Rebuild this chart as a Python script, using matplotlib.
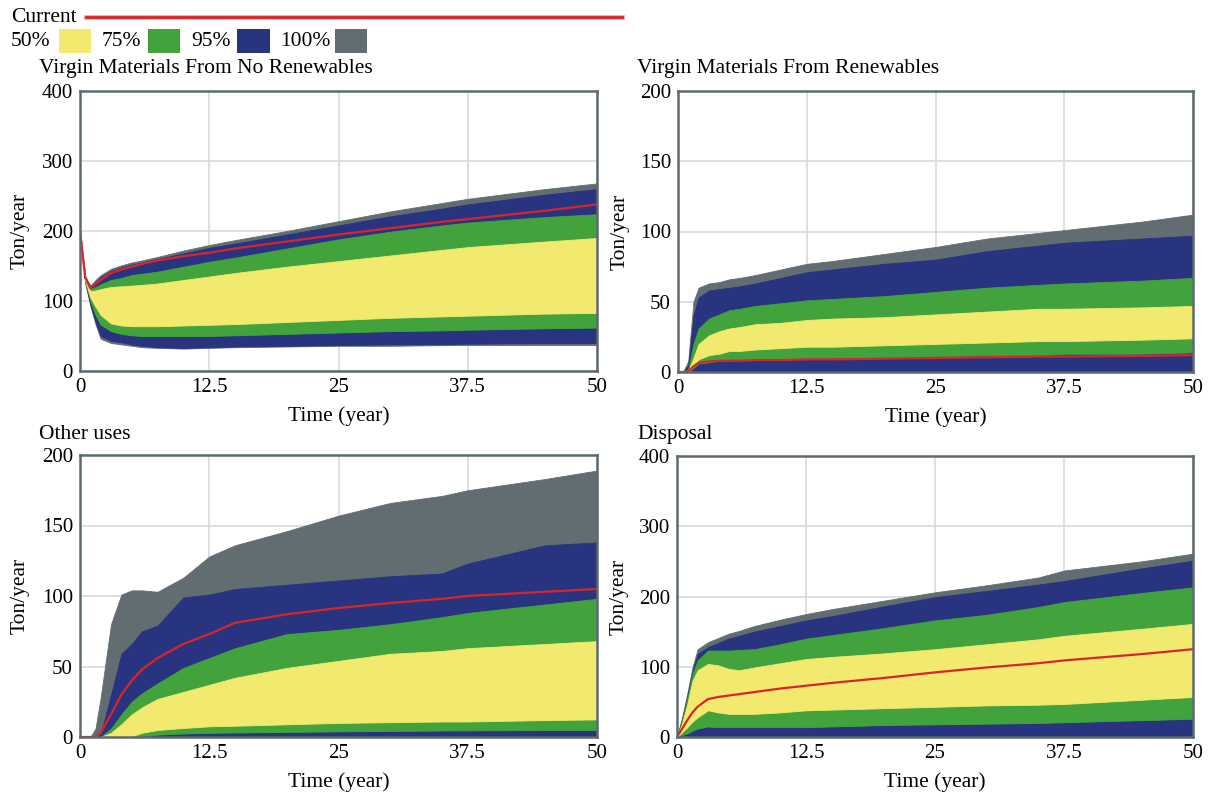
import matplotlib
matplotlib.use("Agg")
import matplotlib.pyplot as plt
from matplotlib.patches import Rectangle
from matplotlib.lines import Line2D

plt.rcParams['font.family'] = 'serif'
plt.rcParams['font.serif'] = ['Liberation Serif', 'DejaVu Serif']

# ================================
# Data
# ================================
years = [0, 0.5, 1, 1.5, 2, 3, 4, 5, 6, 7.5, 10, 12.5, 15, 20, 25, 30, 35, 37.5, 45, 50]

# Virgin Materials From No Renewables
nr_lo100 = [200, 126, 93, 67, 46, 40, 38, 36, 34, 33, 32, 33, 34, 35, 36, 36, 37, 37, 37, 37]
nr_lo95 = [200, 127, 95, 70, 50, 43, 41, 38, 36, 34, 33, 34, 35, 36, 37, 38, 38, 39, 40, 40]
nr_lo75 = [200, 128, 100, 80, 66, 57, 53, 51, 50, 50, 50, 50, 51, 53, 55, 57, 58, 59, 61, 62]
nr_lo50 = [200, 130, 105, 92, 80, 68, 65, 64, 64, 64, 65, 66, 67, 70, 73, 76, 78, 79, 82, 83]
nr_hi50 = [200, 133, 114, 115, 117, 120, 121, 122, 123, 125, 130, 135, 140, 149, 157, 165, 173, 177, 185, 190]
nr_hi75 = [200, 134, 117, 120, 124, 130, 133, 137, 139, 142, 149, 156, 162, 175, 188, 199, 208, 212, 220, 224]
nr_hi95 = [200, 135, 120, 127, 134, 143, 148, 152, 155, 160, 168, 176, 182, 195, 208, 221, 232, 238, 252, 260]
nr_hi100 = [200, 135, 122, 130, 137, 146, 151, 155, 158, 163, 172, 180, 187, 200, 214, 228, 240, 246, 260, 268]
nr_current = [200, 134, 118, 124, 130, 140, 145, 149, 153, 158, 164, 169, 175, 185, 195, 204, 213, 217, 229, 238]

# Virgin Materials From Renewables
r_lo100 = [0] * 20
r_lo95 = [0] * 20
r_lo75 = [0, 0, 0, 3, 6, 7, 8, 9, 9, 9, 9, 10, 10, 10, 11, 12, 12, 13, 13, 14]
r_lo50 = [0, 0, 0, 5, 9, 12, 13, 15, 15, 16, 17, 18, 18, 19, 20, 21, 22, 22, 23, 24]
r_hi50 = [0, 0, 1, 10, 20, 26, 29, 31, 32, 34, 35, 37, 38, 39, 41, 43, 45, 45, 46, 47]
r_hi75 = [0, 0, 2, 20, 31, 38, 41, 44, 45, 47, 49, 51, 52, 54, 57, 60, 62, 63, 65, 67]
r_hi95 = [0, 0, 5, 40, 53, 58, 59, 60, 61, 63, 67, 71, 73, 77, 80, 86, 90, 92, 95, 97]
r_hi100 = [0, 0, 8, 50, 60, 63, 64, 66, 67, 69, 73, 77, 79, 84, 89, 95, 99, 101, 107, 112]
r_current = [0, 0, 0.5, 4, 6.5, 7.5, 8, 8, 8, 8.5, 8.5, 9, 9, 9.5, 10, 10.5, 11, 11, 11.5, 12]

# Other uses
ou_lo100 = [0] * 20
ou_lo95 = [0] * 20
ou_lo75 = [0, 0, 0, 0, 0, 0, 0, 0, 0.5, 1.7, 2.5, 3, 3.2, 3.6, 4, 4.3, 4.6, 4.7, 4.9, 5]
ou_lo50 = [0, 0, 0, 0, 0, 0, 0, 0.5, 3, 5, 6.4, 7.6, 8, 9, 10, 10.5, 11, 11, 12, 12.5]
ou_hi50 = [0, 0, 0, 0, 0, 3, 9, 16, 21, 27, 32, 37, 42, 49, 54, 59, 61, 63, 66, 68]
ou_hi75 = [0, 0, 0, 0, 0, 6, 16, 25, 31, 38, 49, 56, 63, 73, 76, 80, 85, 88, 94, 98]
ou_hi95 = [0, 0, 0, 0, 2, 30, 59, 66, 75, 79, 99, 101, 105, 108, 111, 114, 116, 123, 136, 138]
ou_hi100 = [0, 0, 0, 6, 28, 80, 101, 104, 104, 103, 113, 128, 136, 146, 157, 166, 171, 175, 183, 189]
ou_current = [0, 0, 0, 0, 3, 16, 30, 40, 48, 56, 66, 73, 81, 87, 91.5, 95, 98, 100, 103, 105]

# Disposal
d_lo100 = [0] * 20
d_lo95 = [0] * 20
d_lo75 = [0, 3, 5, 9, 12, 15, 14, 14, 14, 14, 14, 14, 15, 17, 18, 19, 20, 21, 24, 26]
d_lo50 = [0, 7, 14, 22, 28, 38, 35, 33, 33, 33, 35, 38, 39, 41, 43, 45, 46, 47, 53, 57]
d_hi50 = [0, 20, 47, 80, 95, 104, 102, 97, 95, 99, 105, 111, 114, 119, 125, 132, 139, 144, 154, 161]
d_hi75 = [0, 24, 55, 90, 109, 123, 123, 123, 124, 125, 132, 140, 145, 155, 166, 174, 185, 192, 205, 213]
d_hi95 = [0, 26, 58, 94, 118, 128, 134, 140, 144, 150, 158, 166, 172, 186, 199, 208, 217, 222, 240, 251]
d_hi100 = [0, 28, 62, 99, 125, 135, 141, 147, 151, 158, 167, 175, 182, 194, 206, 216, 227, 237, 250, 261]
d_current = [0, 12, 24, 35, 43, 54, 57, 59, 61, 64, 69, 73, 77, 84, 92, 99, 105, 109, 118, 125]

x_ticks = [0, 12.5, 25, 37.5, 50]
x_tick_labels = ['0', '12.5', '25', '37.5', '50']
band_labels = ['50%', '75%', '95%', '100%']

# ================================
# Style
# ================================
C_YELLOW = '#f2ea6e'
C_GREEN = '#42a33d'
C_NAVY = '#283480'
C_GRAY = '#626d72'
C_RED = '#d9252a'
C_SPINE = '#5d6970'
C_GRID = '#d9d9d9'
band_colors = [C_YELLOW, C_GREEN, C_NAVY, C_GRAY]

W, H = 1213, 796
fig = plt.figure(figsize=(W / 100, H / 100), dpi=100)


def fx(px):
    return px / W


def fy(py):
    return 1 - py / H


panels = [
    ('Virgin Materials From No Renewables', 400,
     [(nr_lo100, nr_hi100), (nr_lo95, nr_hi95), (nr_lo75, nr_hi75), (nr_lo50, nr_hi50)], nr_current,
     (80, 597, 91, 371), (39, 68), -0.097),
    ('Virgin Materials From Renewables', 200,
     [(r_lo100, r_hi100), (r_lo95, r_hi95), (r_lo75, r_hi75), (r_lo50, r_hi50)], r_current,
     (678, 1193, 91, 372), (637, 68), -0.093),
    ('Other uses', 200,
     [(ou_lo100, ou_hi100), (ou_lo95, ou_hi95), (ou_lo75, ou_hi75), (ou_lo50, ou_hi50)], ou_current,
     (80, 597, 455, 737), (39, 435), -0.097),
    ('Disposal', 400,
     [(d_lo100, d_hi100), (d_lo95, d_hi95), (d_lo75, d_hi75), (d_lo50, d_hi50)], d_current,
     (677, 1193, 456, 737), (637, 435), -0.093),
]

fill_colors = [C_GRAY, C_NAVY, C_GREEN, C_YELLOW]

for title, ymax, bands, current, box, tpos, ylab_x in panels:
    left, right, top, bottom = box
    ax = fig.add_axes([fx(left), fy(bottom), (right - left) / W, (bottom - top) / H])
    for (lo, hi), col in zip(bands, fill_colors):
        ax.fill_between(years, lo, hi, color=col, lw=0.6, edgecolor=col, zorder=2)
    ax.plot(years, current, color=C_RED, lw=1.6, zorder=3)

    ax.set_xlim(0, 50)
    ax.set_ylim(0, ymax)
    ax.set_xticks(x_ticks)
    ax.set_xticklabels(x_tick_labels)
    ax.set_yticks([ymax * i / 4 for i in range(5)])
    ax.set_yticklabels([f'{ymax * i // 4}' for i in range(5)])
    ax.grid(True, color=C_GRID, lw=1.2, zorder=1)
    ax.set_axisbelow(True)
    ax.tick_params(length=0, labelsize=15, pad=5)
    for s in ax.spines.values():
        s.set_color(C_SPINE)
        s.set_linewidth(1.8)
        s.set_zorder(4)
    ax.set_ylabel('Ton/year', fontsize=15.5)
    ax.yaxis.set_label_coords(ylab_x, 0.5)
    ax.set_xlabel('Time (year)', fontsize=15.5)
    ax.xaxis.set_label_coords(0.5, -0.125)
    fig.text(fx(tpos[0]), fy(tpos[1]), title, fontsize=15.5, ha='left', va='center')

# ================================
# Legend
# ================================
fig.text(fx(11), fy(17), 'Current', fontsize=15.5, ha='left', va='center')
fig.add_artist(Line2D([fx(86), fx(622)], [fy(17), fy(17)], color='#f0a0a0', lw=3.4, transform=fig.transFigure))
fig.add_artist(Line2D([fx(86), fx(622)], [fy(17), fy(17)], color=C_RED, lw=2.0, transform=fig.transFigure))

text_x = [11, 102, 191, 280]
box_x = [(59, 91), (148, 180), (237, 270), (335, 367)]
for lab, tx, (b0, b1), col in zip(band_labels, text_x, box_x, band_colors):
    fig.text(fx(tx), fy(41), lab, fontsize=15.5, ha='left', va='center')
    fig.add_artist(Rectangle((fx(b0), fy(53)), (b1 - b0) / W, 24 / H, facecolor=col,
                             edgecolor='none', transform=fig.transFigure))

fig.savefig('out.png', dpi=100)
